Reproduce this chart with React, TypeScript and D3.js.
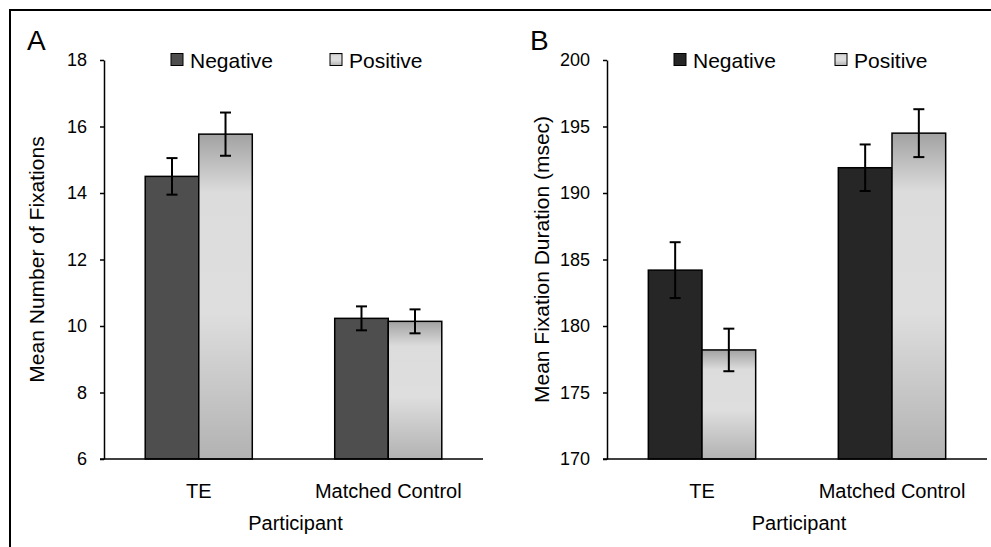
import { useRef, useEffect } from 'react'
import * as d3 from 'd3'

const groups = ['TE', 'Matched Control']
const conditions = ['Negative', 'Positive']

// panel A: mean number of fixations
const fixNeg = [14.5, 10.23]
const fixPos = [15.77, 10.14]
const fixNegErr = [0.55, 0.36]
const fixPosErr = [0.65, 0.36]
const fixTicks = [6, 8, 10, 12, 14, 16, 18]

// panel B: mean fixation duration (msec)
const durNeg = [184.2, 191.9]
const durPos = [178.2, 194.5]
const durNegErr = [2.1, 1.75]
const durPosErr = [1.6, 1.8]
const durTicks = [170, 175, 180, 185, 190, 195, 200]

const FONT = '"Liberation Sans", Arial, sans-serif'

export default function App() {
  const svgRef = useRef<SVGSVGElement | null>(null)

  useEffect(() => {
    const svg = d3.select(svgRef.current)
    svg.selectAll('*').remove()

    const defs = svg.append('defs')
    const grad = defs
      .append('linearGradient')
      .attr('id', 'posGrad')
      .attr('x1', 0)
      .attr('y1', 0)
      .attr('x2', 0)
      .attr('y2', 1)
    grad.append('stop').attr('offset', '0%').attr('stop-color', '#a2a2a2')
    grad.append('stop').attr('offset', '18%').attr('stop-color', '#dcdcdc')
    grad.append('stop').attr('offset', '55%').attr('stop-color', '#dedede')
    grad.append('stop').attr('offset', '100%').attr('stop-color', '#b2b2b2')

    // frame (top + left only)
    svg.append('path').attr('d', 'M10,1000 V10 H991').attr('fill', 'none').attr('stroke', '#000').attr('stroke-width', 2)

    const drawPanel = (opts: {
      letter: string
      x0: number
      x1: number
      ticks: number[]
      neg: number[]
      pos: number[]
      negErr: number[]
      posErr: number[]
      negColor: string
      yTitle: string
      titleX: number
      legendX: number[]
    }) => {
      const top = 60
      const bottom = 459
      const g = svg.append('g')

      const y = d3.scaleLinear().domain([opts.ticks[0], opts.ticks[opts.ticks.length - 1]]).range([bottom, top])
      const x = d3.scaleBand().domain(groups).range([opts.x0, opts.x1]).paddingInner(0.435).paddingOuter(0.2175)
      const xs = d3.scaleBand().domain(conditions).range([0, x.bandwidth()])

      // bars
      groups.forEach((grp, i) => {
        const vals = [opts.neg[i], opts.pos[i]]
        const errs = [opts.negErr[i], opts.posErr[i]]
        conditions.forEach((c, j) => {
          const bx = (x(grp) as number) + (xs(c) as number)
          g.append('rect')
            .attr('x', bx)
            .attr('y', y(vals[j]))
            .attr('width', xs.bandwidth())
            .attr('height', bottom - y(vals[j]))
            .attr('fill', j === 0 ? opts.negColor : 'url(#posGrad)')
            .attr('stroke', '#000')
            .attr('stroke-width', 1.5)
          const cx = bx + xs.bandwidth() / 2
          const e = g.append('g').attr('stroke', '#000').attr('stroke-width', 2)
          e.append('line').attr('x1', cx).attr('x2', cx).attr('y1', y(vals[j] + errs[j])).attr('y2', y(vals[j] - errs[j]))
          ;[vals[j] + errs[j], vals[j] - errs[j]].forEach((v) => {
            e.append('line').attr('x1', cx - 5.5).attr('x2', cx + 5.5).attr('y1', y(v)).attr('y2', y(v))
          })
        })
      })

      // y axis
      const ya = g
        .append('g')
        .attr('transform', `translate(${opts.x0},0)`)
        .call(d3.axisLeft(y).tickValues(opts.ticks).tickSize(4).tickSizeOuter(0).tickPadding(13))
      ya.selectAll('path,line').attr('stroke', '#000').attr('stroke-width', 1.5)
      ya.selectAll('text').attr('font-family', FONT).attr('font-size', 18).attr('fill', '#000')

      // x axis line
      g.append('line')
        .attr('x1', opts.x0 - 4)
        .attr('x2', opts.x1)
        .attr('y1', bottom)
        .attr('y2', bottom)
        .attr('stroke', '#000')
        .attr('stroke-width', 1.5)

      // category labels
      groups.forEach((grp) => {
        g.append('text')
          .attr('x', (x(grp) as number) + x.bandwidth() / 2)
          .attr('y', 498)
          .attr('text-anchor', 'middle')
          .attr('font-family', FONT)
          .attr('font-size', 20)
          .text(grp)
      })
      g.append('text')
        .attr('x', (opts.x0 + opts.x1) / 2 + 2)
        .attr('y', 530)
        .attr('text-anchor', 'middle')
        .attr('font-family', FONT)
        .attr('font-size', 20)
        .text('Participant')

      // y title
      g.append('text')
        .attr('transform', `translate(${opts.titleX},${(top + bottom) / 2}) rotate(-90)`)
        .attr('text-anchor', 'middle')
        .attr('font-family', FONT)
        .attr('font-size', 21)
        .text(opts.yTitle)

      // panel letter
      g.append('text')
        .attr('x', opts.x0 - 77)
        .attr('y', 50)
        .attr('font-family', FONT)
        .attr('font-size', 28)
        .text(opts.letter)

      // legend
      conditions.forEach((c, j) => {
        const lx = opts.legendX[j]
        g.append('rect')
          .attr('x', lx)
          .attr('y', 53.5)
          .attr('width', 12)
          .attr('height', 12)
          .attr('fill', j === 0 ? opts.negColor : 'url(#posGrad)')
          .attr('stroke', '#000')
          .attr('stroke-width', 1)
        g.append('text')
          .attr('x', lx + 19)
          .attr('y', 67.5)
          .attr('font-family', FONT)
          .attr('font-size', 21)
          .text(c)
      })
    }

    drawPanel({
      letter: 'A',
      x0: 104,
      x1: 483,
      ticks: fixTicks,
      neg: fixNeg,
      pos: fixPos,
      negErr: fixNegErr,
      posErr: fixPosErr,
      negColor: '#4e4e4e',
      yTitle: 'Mean Number of Fixations',
      titleX: 44,
      legendX: [171, 330],
    })

    drawPanel({
      letter: 'B',
      x0: 607,
      x1: 987,
      ticks: durTicks,
      neg: durNeg,
      pos: durPos,
      negErr: durNegErr,
      posErr: durPosErr,
      negColor: '#262626',
      yTitle: 'Mean Fixation Duration (msec)',
      titleX: 549,
      legendX: [674, 835],
    })
  }, [])

  return (
    <svg
      ref={svgRef}
      width={991}
      height={547}
      style={{ position: 'absolute', left: 0, top: 0, background: '#fff' }}
    />
  )
}
